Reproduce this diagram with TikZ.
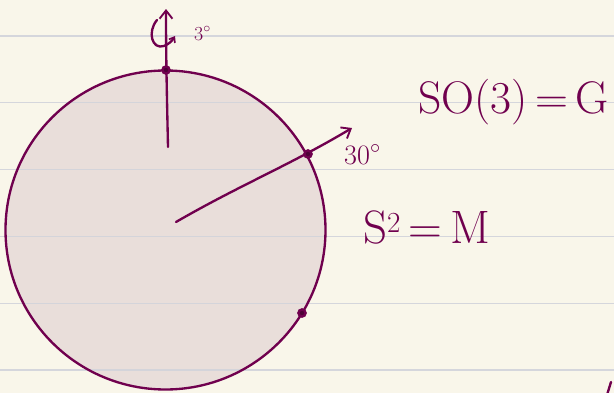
\documentclass[tikz,border=0pt]{standalone}
\usetikzlibrary{arrows.meta}
\definecolor{paper}{RGB}{249,246,234}
\definecolor{ruling}{RGB}{210,211,219}
\definecolor{ink}{RGB}{112,0,78}
\definecolor{disk}{RGB}{233,222,218}
\tikzset{
  pen/.style={draw=ink, line width=2pt, line cap=round, line join=round},
  barb/.style={-{Straight Barb[length=7pt, width=11pt, line width=1.6pt]}},
  dotpt/.style={draw=ink, fill=ink!70!black, line width=2pt},
  hand/.style={text=ink, inner sep=0pt}
}
\begin{document}
\begin{tikzpicture}[x=0.03cm, y=-0.03cm]
  % --- paper ---------------------------------------------------
  \fill[paper] (0,0) rectangle (614,393);
  \useasboundingbox (0,0) rectangle (614,393);
  \clip (0,0) rectangle (614,393);
  % --- sphere --------------------------------------------------
  \coordinate (ctr) at (165.5,230);
  \fill[disk] (ctr) ellipse [x radius=160, y radius=159.5];
  % --- ruled lines ---------------------------------------------
  \foreach \yy in {36,102.8,169.6,236.4,303.2,370} {
    \draw[ruling, line width=1.1pt, opacity=0.9] (0,\yy) -- (614,\yy);
  }
  \draw[pen] (ctr) ellipse [x radius=160, y radius=159.5];
  % --- points on the sphere ------------------------------------
  \coordinate (pole) at (166,70);
  \coordinate (hit) at (308,154);
  \coordinate (low) at (302,313);
  % --- rotation axis -------------------------------------------
  \coordinate (axisfoot) at (168,147);
  \coordinate (axistip) at (166,9);
  \draw[pen, barb] (axisfoot) .. controls (167,100) and (166,60) .. (axistip);
  \coordinate (spinA) at (157,20);
  \coordinate (spinB) at (175,36);
  \draw[pen, -{Straight Barb[length=4pt, width=6pt, line width=1.4pt]}]
    (spinA) .. controls (147,32) and (152,50) .. (164,46) .. controls (169,44) and (172,41) .. (spinB);
  \node[hand, font=\fontsize{17}{17}\selectfont, anchor=base west] (topang) at (194,40) {3$^{\circ}$};
  % --- radial arrow --------------------------------------------
  \coordinate (rfoot) at (176,222);
  \coordinate (rtip) at (352,128);
  \draw[pen, barb] (rfoot) .. controls (240,185) and (290,165) .. (rtip);
  \node[hand, font=\fontsize{24}{24}\selectfont, anchor=base west] (sideang) at (344,164) {30$^{\circ}$};
  % --- dots ----------------------------------------------------
  \foreach \pp in {pole,hit,low} {
    \draw[dotpt] (\pp) circle [radius=3.6];
  }
  % --- labels --------------------------------------------------
  \node[hand, font=\fontsize{39}{39}\selectfont, anchor=base west] (group) at (418,113) {SO(3)\,=\,G};
  \node[hand, font=\fontsize{40}{40}\selectfont, anchor=base west] (manifold) at (363,243) {S$^{2}$\,=\,M};
  % --- stray stroke at the corner -------------------------------
  \coordinate (strayA) at (611,382);
  \coordinate (strayB) at (607,395);
  \draw[pen] (strayA) -- (strayB);
\end{tikzpicture}
\end{document}
